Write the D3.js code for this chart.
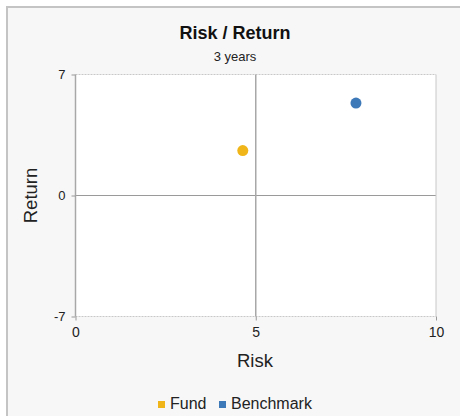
<!DOCTYPE html>
<html><head><meta charset="utf-8">
<script src="https://cdn.jsdelivr.net/npm/d3@7"></script>
<style>body{margin:0;background:#fff;}svg{display:block;font-family:"Liberation Sans",Arial,sans-serif;}</style>
</head><body><svg id="c" width="460" height="416"></svg>
<script>
const seriesNames = ["Fund", "Benchmark"];
const riskValues = [4.64, 7.78];
const returnValues = [2.6, 5.35];
const seriesColors = ["#f0b619", "#3d78b8"];
const xTicks = [0, 5, 10];
const yTicks = [-7, 0, 7];

const svg = d3.select("#c");
svg.append("rect").attr("x", 7).attr("y", 7).attr("width", 470).attr("height", 430)
  .attr("fill", "#f7f7f7").attr("stroke", "#c4c4c4").attr("stroke-width", 2);

const x = d3.scaleLinear().domain([0, 10]).range([75.5, 436]);
const y = d3.scaleLinear().domain([-7, 7]).range([316.5, 74.5]);

svg.append("rect").attr("x", x(0)).attr("y", y(7)).attr("width", x(10) - x(0)).attr("height", y(-7) - y(7)).attr("fill", "#fff");

// grid
const g = svg.append("g");
yTicks.forEach(t => {
  g.append("line").attr("x1", x(0)).attr("x2", x(10)).attr("y1", y(t)).attr("y2", y(t))
    .attr("stroke", t === 0 ? "#9a9a9a" : "#c8c8c8").attr("stroke-width", 1)
    .attr("stroke-dasharray", t === 0 ? null : "2,1");
});
xTicks.forEach(t => {
  g.append("line").attr("y1", y(7)).attr("y2", y(-7)).attr("x1", x(t)).attr("x2", x(t))
    .attr("stroke", t === 10 ? "#c8c8c8" : "#a8a8a8").attr("stroke-width", t === 10 ? 1 : 1.5);
});

// axes
const fmt = d => String(d);
const yAxis = d3.axisLeft(y).tickValues(yTicks).tickSize(4).tickPadding(6).tickFormat(fmt);
const ya = svg.append("g").attr("transform", `translate(${x(0)},0)`).call(yAxis);
ya.select(".domain").remove();
ya.selectAll("line").attr("stroke", "#999");
ya.selectAll("text").attr("font-size", 13).attr("fill", "#222");

const xAxis = d3.axisBottom(x).tickValues(xTicks).tickSize(4).tickPadding(7).tickFormat(fmt);
const xa = svg.append("g").attr("transform", `translate(0,${y(-7)})`).call(xAxis);
xa.select(".domain").remove();
xa.selectAll("line").attr("stroke", "#999");
xa.selectAll("text").attr("font-size", 14).attr("fill", "#222");

// points
svg.append("g").selectAll("circle").data(seriesNames).join("circle")
  .attr("cx", (d, i) => x(riskValues[i])).attr("cy", (d, i) => y(returnValues[i]))
  .attr("r", 5.5).attr("fill", (d, i) => seriesColors[i]);

// titles
svg.append("text").attr("x", 235).attr("y", 39).attr("text-anchor", "middle")
  .attr("font-size", 18).attr("font-weight", "bold").attr("fill", "#111").text("Risk / Return");
svg.append("text").attr("x", 235).attr("y", 61).attr("text-anchor", "middle")
  .attr("font-size", 13).attr("fill", "#222").text("3 years");
svg.append("text").attr("x", 255).attr("y", 367).attr("text-anchor", "middle")
  .attr("font-size", 18.5).attr("fill", "#222").text("Risk");
svg.append("text").attr("transform", `translate(37,${y(0)}) rotate(-90)`).attr("text-anchor", "middle")
  .attr("font-size", 18.5).attr("fill", "#222").text("Return");

// legend
const legendX = [158, 219];
const lg = svg.append("g").selectAll("g").data(seriesNames).join("g")
  .attr("transform", (d, i) => `translate(${legendX[i]},397)`);
lg.append("rect").attr("width", 7).attr("height", 7).attr("y", 4).attr("fill", (d, i) => seriesColors[i]);
lg.append("text").attr("x", 12).attr("y", 11.5).attr("font-size", 16).attr("fill", "#222").text(d => d);
</script></body></html>
